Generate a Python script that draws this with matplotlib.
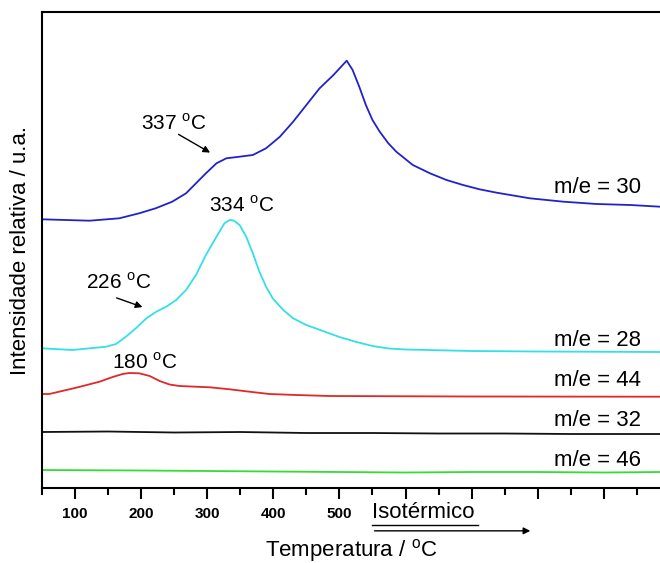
import matplotlib.pyplot as plt

plt.rcParams['font.family'] = ['Liberation Sans', 'DejaVu Sans']
plt.rcParams['mathtext.fontset'] = 'custom'
plt.rcParams['mathtext.rm'] = 'Liberation Sans'

# m/e = 30
t30 = [50, 122, 167, 197, 222, 247, 268, 283, 298, 314, 329, 349, 369, 389, 410, 430,
       450, 470, 491, 511, 520, 530, 540, 550, 561, 574, 586, 611, 637, 662, 687, 712,
       738, 788, 839, 889, 940, 985]
i30 = [268.7, 267.3, 269.7, 274.7, 279.7, 286.3, 294.7, 304.7, 314.7, 324.7, 329.7,
       331.3, 333, 339.7, 351.3, 366.3, 383, 399.7, 413, 427.3, 418, 401.3, 383, 368,
       356.3, 344.7, 336.3, 323, 314.7, 308, 303, 298.7, 295.3, 289.7, 286.3, 284, 283,
       281.3]

# m/e = 28
t28 = [50, 96, 147, 162, 177, 192, 208, 223, 238, 253, 268, 283, 298, 314, 326, 334,
       340, 349, 359, 369, 379, 389, 399, 415, 430, 450, 475, 500, 526, 550, 575, 600,
       700, 800, 985]
i28 = [139.7, 138, 141.3, 144, 151.3, 159.7, 169.7, 176.3, 181.3, 188, 198, 213, 233,
       251.3, 264.7, 268, 267.5, 263, 251.3, 234.7, 216.3, 201.3, 189.7, 178, 169.7, 163,
       157, 151, 146, 142, 139.5, 138.5, 137, 136.5, 136]

# m/e = 44
t44 = [50, 61, 76, 106, 137, 157, 172, 182, 197, 213, 228, 243, 258, 304, 334, 364,
       394, 435, 485, 700, 985]
i44 = [94, 94, 96.3, 101, 106.3, 111, 114, 115, 114.7, 112, 107, 103.5, 102, 100.7,
       98.7, 96.3, 94, 93, 92, 91.5, 91.3]

# m/e = 32
t32 = [50, 150, 250, 350, 450, 550, 650, 750, 850, 985]
i32 = [56, 56.5, 55.5, 56, 55, 55, 54.5, 54.5, 54, 54]

# m/e = 46
t46 = [50, 200, 300, 400, 500, 600, 700, 800, 900, 985]
i46 = [18, 17.5, 17, 16.5, 16, 15.5, 16, 16, 15.5, 16]

fig = plt.figure(figsize=(6.6, 5.63), dpi=100)
ax = fig.add_axes([0.0636, 0.1332, 0.9364, 0.8455])

ax.plot(t30, i30, color='#2222cc', lw=1.3)
ax.plot(t28, i28, color='#33e0e6', lw=1.3)
ax.plot(t44, i44, color='#e02828', lw=1.3)
ax.plot(t32, i32, color='#111111', lw=1.3)
ax.plot(t46, i46, color='#33dd33', lw=1.3)

ax.set_xlim(50, 985)
ax.set_ylim(0, 476)

deg = r'$^{\rm o}$C'
fs = 15
ax.text(250, 365, '337 ' + deg, ha='center', va='center', fontsize=fs)
ax.annotate('', xy=(308, 334), xytext=(253, 355),
            arrowprops=dict(arrowstyle='-|>', color='black', lw=1, mutation_scale=10))
ax.text(353, 283, '334 ' + deg, ha='center', va='center', fontsize=fs)
ax.text(166, 206, '226 ' + deg, ha='center', va='center', fontsize=fs)
ax.annotate('', xy=(206, 180), xytext=(159, 191),
            arrowprops=dict(arrowstyle='-|>', color='black', lw=1, mutation_scale=10))
ax.text(206, 126, '180 ' + deg, ha='center', va='center', fontsize=fs)

labels = ['m/e = 30', 'm/e = 28', 'm/e = 44', 'm/e = 32', 'm/e = 46']
label_y = [300, 148, 108, 68, 28]
for lab, ly in zip(labels, label_y):
    ax.text(891, ly, lab, ha='center', va='center', fontsize=16)

# ticks: labels only up to 500
major = list(range(100, 1000, 100))
ax.set_xticks(major)
ax.set_xticklabels([str(m) if m <= 500 else '' for m in major],
                   fontsize=11, fontweight='bold')
ax.set_xticks(list(range(50, 1000, 50)), minor=True)
ax.tick_params(axis='x', which='major', length=8, width=1.5, direction='out', pad=6)
ax.tick_params(axis='x', which='minor', length=5, width=1.5, direction='out')
ax.set_yticks([])
ax.spines['right'].set_visible(False)
for s in ['left', 'bottom', 'top']:
    ax.spines[s].set_linewidth(1.5)

# isothermal marker below the axis
tr = ax.get_xaxis_transform()
ax.text(549, -0.052, 'Isotérmico', transform=tr, ha='left', va='center', fontsize=16)
ax.plot([549, 710], [-0.077, -0.077], transform=tr, color='black', lw=1, clip_on=False)
ax.annotate('', xy=(793, -0.09), xytext=(549, -0.09), xycoords=tr, textcoords=tr,
            arrowprops=dict(arrowstyle='-|>', color='black', lw=1, mutation_scale=10))

ax.set_xlabel('Temperatura / ' + deg, fontsize=16, labelpad=11)
ax.set_ylabel('Intensidade relativa / u.a.', fontsize=16, labelpad=8)

fig.savefig('out.png', dpi=100)
